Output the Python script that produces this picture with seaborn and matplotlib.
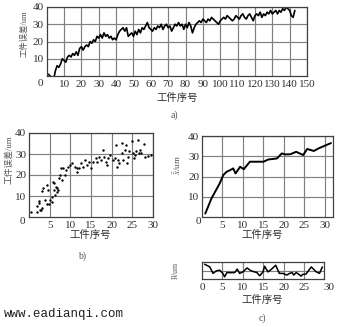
import numpy as np
import pandas as pd
import matplotlib
matplotlib.use("Agg")
import matplotlib.pyplot as plt
import seaborn as sns

# ---------------- data ----------------
# a) error of each workpiece, pieces 1..143
a_err = [1, 0, -1, -2, 3, 6, 5, 7, 10, 9,
         8, 11, 12, 11, 13, 12, 14, 12, 16, 17,
         15, 17, 18, 17, 20, 19, 21, 20, 23, 22,
         24, 22, 25, 23, 24, 22, 23, 21, 22, 21,
         24, 26, 27, 28, 26, 28, 23, 24, 25, 23,
         26, 24, 27, 25, 28, 27, 29, 31, 28, 27,
         26, 28, 27, 29, 28, 30, 27, 29, 30, 28,
         29, 26, 28, 30, 29, 31, 29, 30, 27, 30,
         28, 31, 29, 25, 28, 30, 31, 32, 31, 33,
         32, 31, 33, 32, 34, 33, 32, 31, 30, 32,
         33, 34, 33, 35, 34, 33, 32, 33, 35, 34,
         33, 35, 36, 34, 33, 35, 36, 34, 32, 35,
         36, 35, 37, 34, 36, 35, 37, 36, 38, 36,
         37, 38, 36, 38, 37, 39, 38, 40, 39, 38,
         35, 34, 38]
a_idx = list(range(1, len(a_err) + 1))

# b) scatter of workpiece error vs sample number
b_x = [0.6, 1.9, 2.0, 2.3, 2.5, 2.8, 3.1, 2.7, 3.1, 3.5, 3.9, 4.3, 4.3, 4.7, 4.8, 5.1,
       5.5, 5.6, 5.9, 6.0, 6.1, 6.3, 6.5, 6.7, 6.8, 7.1, 7.3, 7.5, 7.7, 7.9, 8.3, 8.7,
       8.9, 9.5, 9.9, 10.5, 11.1, 11.5, 11.7, 12.1, 12.7, 13.1, 13.5, 14.1, 14.6, 15.1,
       15.5, 16.2, 16.5, 17.0, 17.5, 17.9, 18.1, 18.6, 18.9, 19.1, 19.5, 20.4, 20.8, 21.0,
       21.2, 21.6, 21.8, 22.4, 22.6, 22.8, 23.2, 23.4, 23.7, 24.0, 24.2, 24.8, 25.2, 25.3,
       25.6, 26.0, 26.4, 26.6, 26.8, 27.2, 27.8, 28.0, 28.8, 29.4]
b_y = [2.4, 2.4, 5.1, 6.7, 7.7, 3.5, 4.5, 3.2, 12.5, 13.6, 8.0, 6.4, 15.2, 12.8, 6.4, 8.0,
       7.2, 9.3, 16.8, 16.0, 12.8, 10.4, 14.4, 12.0, 13.6, 12.8, 18.4, 20.0, 23.2, 17.6, 23.2, 20.0,
       22.4, 24.0, 24.8, 25.6, 24.0, 23.2, 21.6, 23.2, 25.6, 24.0, 27.2, 24.8, 26.4, 23.2,
       26.4, 28.0, 26.4, 28.8, 27.2, 32.0, 28.8, 26.4, 24.8, 28.0, 29.6, 27.2, 28.0, 34.4,
       24.0, 27.2, 25.6, 30.4, 35.2, 27.2, 32.0, 34.4, 25.6, 28.8, 31.2, 36.0, 30.4, 28.0,
       29.6, 31.2, 36.8, 30.4, 32.0, 30.4, 34.9, 28.8, 29.1, 29.6]

# c) mean of groups
c_x = [0.8, 2.3, 4.3, 5.2, 6.0, 7.2, 7.6, 8.2, 9.3, 10.2, 11.7, 13.4, 15.0, 16.2, 18.3,
       19.5, 20.3, 21.6, 23.0, 24.7, 25.7, 27.3, 28.5, 31.5]
c_mean = [1.7, 9.1, 16.5, 20.7, 22.3, 23.5, 24.0, 21.5, 24.8, 23.6, 27.3, 27.3, 27.3, 28.4, 28.9,
          31.4, 30.9, 31.0, 32.2, 30.6, 33.6, 32.6, 33.9, 36.5]

# c) range of groups
r_x = [0.65, 1.9, 2.7, 3.5, 4.3, 5.1, 5.5, 6.1, 7.2, 8.0, 8.6, 9.2, 10.0, 11.0, 12.0, 12.8,
       13.4, 14.1, 14.9, 15.3, 16.1, 16.9, 18.0, 18.9, 19.8, 20.7, 21.4, 22.0, 22.4, 23.0,
       23.7, 24.2, 24.6, 25.4, 26.7, 27.9, 28.7, 29.4]
r_val = [8.7, 7.1, 3.3, 4.8, 5.2, 3.3, 1.3, 3.8, 3.7, 3.8, 5.8, 3.3, 4.2, 6.5, 4.8, 4.2,
         3.8, 1.9, 4.2, 7.5, 4.2, 5.6, 8.1, 3.3, 3.3, 2.3, 3.3, 3.8, 2.3, 3.8,
         2.7, 1.7, 2.7, 2.9, 7.1, 4.2, 3.3, 7.1]

# ---------------- style ----------------
sns.set_style("white")
plt.rcParams['font.family'] = ['Liberation Serif', 'Noto Sans CJK SC', 'DejaVu Sans']
plt.rcParams['mathtext.fontset'] = 'stix'

W, H = 338, 327
fig = plt.figure(figsize=(W / 100, H / 100), dpi=100)

def box(l, t, r, b):
    return [l / W, 1 - b / H, (r - l) / W, (b - t) / H]

def ft(px, py, s, **kw):
    kw.setdefault('ha', 'center')
    kw.setdefault('va', 'center')
    fig.text(px / W, 1 - py / H, s, **kw)

GRID = dict(color='#808080', linewidth=0.85)
TXT = '#303030'

def style(ax, fs=8):
    for s in ax.spines.values():
        s.set_color('#404040')
        s.set_linewidth(0.9)
    ax.tick_params(axis='both', length=0, labelsize=fs, colors=TXT, pad=2)
    ax.grid(True, **GRID)
    ax.set_axisbelow(True)
    ax.set_xlabel('')
    ax.set_ylabel('')

# a)
axa = fig.add_axes(box(46.7, 7, 307, 76))
dfa = pd.DataFrame({'n': a_idx, 'e': a_err})
sns.lineplot(data=dfa, x='n', y='e', ax=axa, color='black', linewidth=1.2)
axa.set_xlim(0, 150)
axa.set_ylim(0, 40)
axa.set_xticks(range(10, 151, 10))
axa.set_yticks([10, 20, 30, 40])
style(axa, 8)
axa.tick_params(axis='x', pad=3)
ft(40, 84, '0', fontsize=8, color=TXT)
ft(25, 34, '工件误差/um', fontsize=6, rotation=90, color='#555555')
ft(177, 98, '工件序号', fontsize=7.5, color=TXT)
ft(174, 115, 'a)', fontsize=7, color='#555555')

# b)
axb = fig.add_axes(box(29, 133, 153, 217))
dfb = pd.DataFrame({'n': b_x, 'e': b_y})
sns.scatterplot(data=dfb, x='n', y='e', ax=axb, color='black', s=3, linewidth=0)
axb.set_xlim(0, 30)
axb.set_ylim(0, 40)
axb.set_xticks(range(5, 31, 5))
axb.set_yticks([10, 20, 30, 40])
style(axb, 8)
axb.tick_params(axis='x', pad=3)
ft(22, 222, '0', fontsize=8, color=TXT)
ft(9, 160, '工件误差/um', fontsize=6.3, rotation=90, color='#555555')
ft(90, 235, '工件序号', fontsize=7.5, color=TXT)
ft(82, 256, 'b)', fontsize=7, color='#555555')

# c) top
axc = fig.add_axes(box(202, 136, 333, 217))
dfc = pd.DataFrame({'n': c_x, 'm': c_mean})
sns.lineplot(data=dfc, x='n', y='m', ax=axc, color='black', linewidth=1.4)
axc.set_xlim(0, 32)
axc.set_ylim(0, 40)
axc.set_xticks(range(5, 31, 5))
axc.set_yticks([10, 20, 30, 40])
style(axc, 8)
axc.tick_params(axis='x', pad=3)
ft(198, 222, '0', fontsize=8, color=TXT)
ft(177, 165, r'$\bar{\bar{x}}$/um', fontsize=6.5, rotation=90, color='#555555')
ft(262, 235, '工件序号', fontsize=7.5, color=TXT)

# c) bottom
axr = fig.add_axes(box(202, 262, 324, 279))
dfr = pd.DataFrame({'n': r_x, 'r': r_val})
sns.lineplot(data=dfr, x='n', y='r', ax=axr, color='black', linewidth=1.1)
axr.set_xlim(0, 29.8)
axr.set_ylim(0, 10)
axr.set_xticks(range(5, 26, 5))
axr.set_yticks([5])
axr.set_yticklabels([])
style(axr, 8)
axr.tick_params(axis='x', pad=3)
ft(202, 288, '0', fontsize=8, color=TXT)
ft(329, 288, '30', fontsize=8, color=TXT)
ft(176, 270, 'R/um', fontsize=5.5, rotation=90, color='#555555')
ft(262, 300, '工件序号', fontsize=7.5, color=TXT)
ft(262, 318, 'c)', fontsize=7, color='#555555')

# watermark
ft(4, 314, 'www.eadianqi.com', fontsize=9, ha='left', color='#202020',
   family=['Liberation Mono', 'DejaVu Sans Mono'])

fig.savefig('out.png', dpi=100)
